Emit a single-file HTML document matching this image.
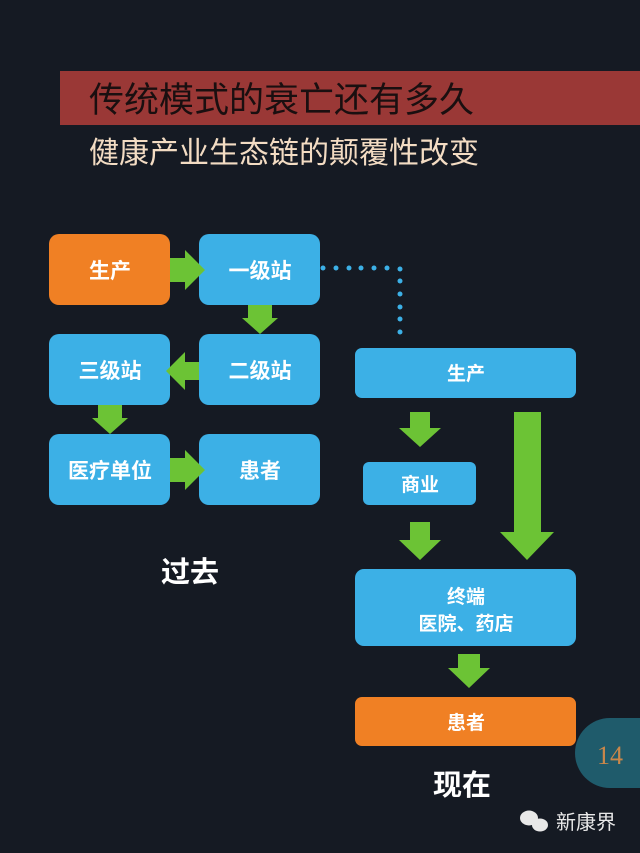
<!DOCTYPE html>
<html><head><meta charset="utf-8"><style>
html,body{margin:0;padding:0;background:#151a23;}
body{width:640px;height:853px;overflow:hidden;position:relative;font-family:"Liberation Sans","Noto Sans CJK SC",sans-serif;}
svg{position:absolute;left:0;top:0}
</style></head><body>
<svg width="640" height="853" viewBox="0 0 640 853" font-family="Liberation Sans, Noto Sans CJK SC, sans-serif">
<rect width="640" height="853" fill="#151a23"/>
<rect x="60" y="71" width="580" height="54" fill="#9a3836"/>
<text x="89" y="112" font-size="35" fill="#1a0f10">传统模式的衰亡还有多久</text>
<text x="89" y="163" font-size="30" fill="#f3dcc3">健康产业生态链的颠覆性改变</text>

<g fill="#3cb0e6">
<rect x="199" y="234" width="121" height="71" rx="10"/>
<rect x="199" y="334" width="121" height="71" rx="10"/>
<rect x="49" y="334" width="121" height="71" rx="10"/>
<rect x="49" y="434" width="121" height="71" rx="10"/>
<rect x="199" y="434" width="121" height="71" rx="10"/>
<rect x="355" y="348" width="221" height="50" rx="7"/>
<rect x="363" y="462" width="113" height="43" rx="6"/>
<rect x="355" y="569" width="221" height="77" rx="9"/>
</g>
<g fill="#f08024">
<rect x="49" y="234" width="121" height="71" rx="10"/>
<rect x="355" y="697" width="221" height="49" rx="7"/>
</g>
<g fill="#6cc335">
<polygon points="170,258 185,258 185,250 205,270 185,290 185,282 170,282"/>
<polygon points="248,305 272,305 272,318 278,318 260,334 242,318 248,318"/>
<polygon points="199,362 185,362 185,352 166,371 185,390 185,380 199,380"/>
<polygon points="98,405 122,405 122,418 128,418 110,434 92,418 98,418"/>
<polygon points="170,458 185,458 185,450 205,470 185,490 185,482 170,482"/>
<polygon points="410,412 430,412 430,428 441,428 420,447 399,428 410,428"/>
<polygon points="410,522 430,522 430,540 441,540 420,560 399,540 410,540"/>
<polygon points="514,412 541,412 541,532 554,532 527,560 500,532 514,532"/>
<polygon points="458,654 480,654 480,668 490,668 469,688 448,668 458,668"/>
</g>
<g fill="#3cb0e6">
<circle cx="323" cy="268" r="2.5"/><circle cx="336" cy="268" r="2.5"/><circle cx="349" cy="268" r="2.5"/><circle cx="361" cy="268" r="2.5"/><circle cx="374" cy="268" r="2.5"/><circle cx="387" cy="268" r="2.5"/><circle cx="400" cy="269" r="2.5"/>
<circle cx="400" cy="281" r="2.5"/><circle cx="400" cy="294" r="2.5"/><circle cx="400" cy="307" r="2.5"/><circle cx="400" cy="319" r="2.5"/><circle cx="400" cy="332" r="2.5"/>
</g>
<g fill="#fff" font-size="21" font-weight="bold" text-anchor="middle">
<text x="110" y="278">生产</text>
<text x="260" y="278">一级站</text>
<text x="260" y="378">二级站</text>
<text x="110" y="378">三级站</text>
<text x="110" y="478">医疗单位</text>
<text x="260" y="478">患者</text>
<text x="466" y="380" font-size="19">生产</text>
<text x="420" y="491" font-size="19">商业</text>
<text x="466" y="603" font-size="19">终端</text>
<text x="466" y="630" font-size="19">医院、药店</text>
<text x="466" y="729" font-size="19">患者</text>
<text x="190" y="582" font-size="29">过去</text>
<text x="462" y="795" font-size="29">现在</text>
</g>
<path d="M610 718 L640 718 L640 788 L610 788 A35 35 0 0 1 610 718 Z" fill="#1f5b6b"/>
<text x="610" y="764" font-size="26" fill="#c9874a" text-anchor="middle" font-family="Liberation Serif, serif">14</text>
<g fill="#e8e8e8">
<ellipse cx="529" cy="818" rx="9" ry="7.5"/>
<ellipse cx="540" cy="825" rx="8" ry="6.5"/>
</g>
<text x="556" y="829" font-size="20" fill="#e8e8e8">新康界</text>
</svg>
</body></html>
